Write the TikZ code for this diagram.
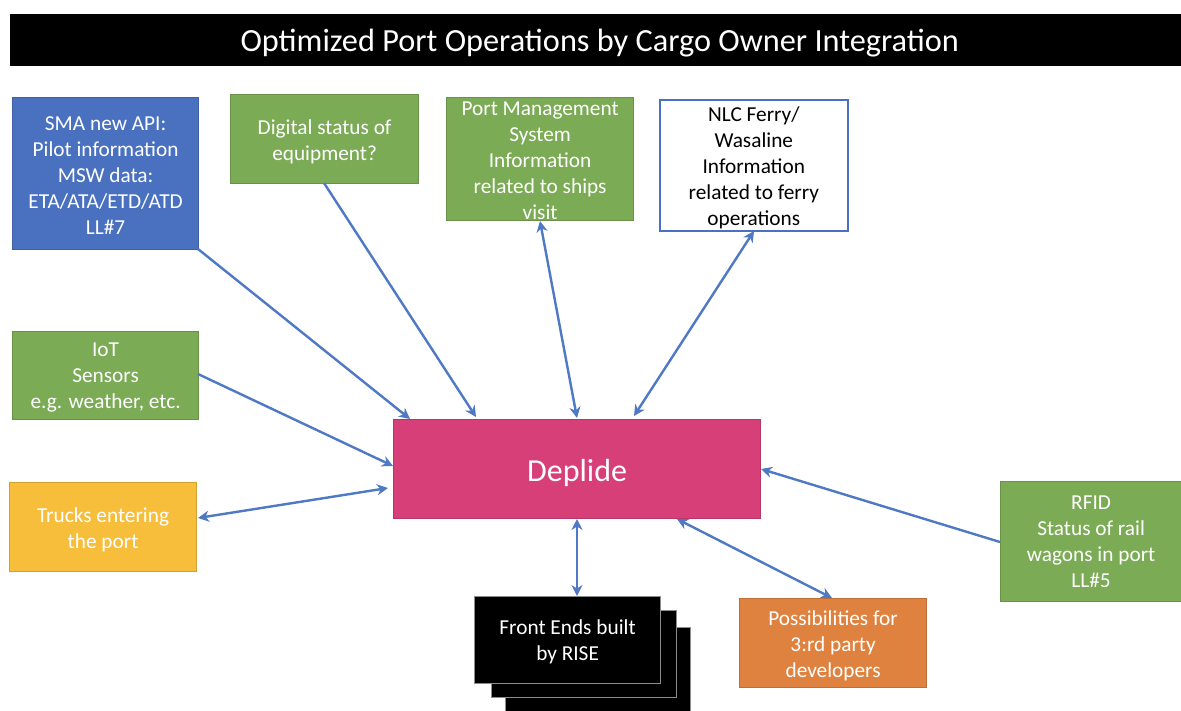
\documentclass[tikz,border=0pt]{standalone}
\usepackage{fontspec}
\setmainfont{Carlito}
\usetikzlibrary{arrows.meta}
\definecolor{cgreen}{HTML}{7BAB55}
\definecolor{cblue}{HTML}{4A71C0}
\definecolor{cpink}{HTML}{D63F78}
\definecolor{cyel}{HTML}{F6BE3A}
\definecolor{corg}{HTML}{DF823F}
\definecolor{cline}{HTML}{4F79C4}
\newcommand{\dn}[1]{\rule{0pt}{#1pt}}
\tikzset{x=1pt,y=-1pt,
 box/.style={draw=#1!85!black,fill=#1,line width=1.2pt,text=white,align=center,inner sep=0pt,anchor=north west,font=\fontsize{21.3}{26}\selectfont},
 conn/.style={cline,line width=2.4pt,-{Stealth[length=11pt,width=11pt]}},
 biconn/.style={cline,line width=2.4pt,{Stealth[length=11pt,width=11pt]}-{Stealth[length=11pt,width=11pt]}}}
\newcommand{\bx}[7][]{\node[box=#2,minimum width=#5pt,minimum height=#6pt,#1] (#3) at #4 {#7};}
\begin{document}
\begin{tikzpicture}
\useasboundingbox (0,0) rectangle (1181,711);
\fill[white] (0,0) rectangle (1181,711);
\node[fill=black,text=white,anchor=north west,minimum width=1171pt,minimum height=52pt,inner sep=0pt,text depth=0pt,font=\fontsize{32.3}{36}\selectfont] (title) at (10,14) {\kern8pt Optimized Port Operations by Cargo Owner Integration};
\bx{cblue}{sma}{(12,97)}{186}{152}{\dn{17}SMA new API:\\Pilot information\\MSW data:\\ETA/ATA/ETD/ATD\\LL\#7}
\bx{cgreen}{dig}{(230,94)}{188}{89}{\dn{20}Digital status of\\equipment?}
\bx{cgreen}{pms}{(446,97)}{187}{123}{\dn{17}Port Management\\System\\Information\\related to ships\\visit}
\node[box=white,draw=cblue,text=black,line width=1.6pt,minimum width=188pt,minimum height=131pt] (nlc) at (659,99) {\dn{19}NLC Ferry/\\Wasaline\\Information\\related to ferry\\operations};
\bx{cgreen}{iot}{(12,331)}{186}{88}{\dn{17}IoT\\Sensors\\e.g. weather, etc.}
\bx{cyel}{trk}{(9,482)}{187}{89}{\dn{20}Trucks entering\\the port}
\bx{cpink}{dep}{(393,419)}{367}{99}{\fontsize{32}{36}\selectfont\dn{30}Deplide}
\bx{cgreen}{rfid}{(1000,481)}{181}{120}{RFID\\Status of rail\\wagons in port\\LL\#5}
\bx{corg}{dev}{(739,598)}{187}{89}{\dn{20}Possibilities for\\3:rd party\\developers}
\node[fill=black,draw=black!45,line width=1.2pt,anchor=north west,minimum width=185pt,minimum height=100pt,inner sep=0pt] (fe3) at (505,627) {};
\node[fill=black,draw=black!45,line width=1.2pt,anchor=north west,minimum width=185pt,minimum height=87pt,inner sep=0pt] (fe2) at (491,610) {};
\node[fill=black,draw=black!45,line width=1.2pt,anchor=north west,minimum width=186pt,minimum height=87pt,inner sep=0pt,text=white,align=center,font=\fontsize{21.3}{26}\selectfont] (fe) at (474,596) {\dn{19}Front Ends built\\by RISE};
\coordinate (d1) at (410,419);\coordinate (d2) at (476,417);\coordinate (d3) at (577,418);\coordinate (d4) at (634,416);
\coordinate (d5) at (393,466);\coordinate (d6) at (388,488);\coordinate (d7) at (761,469);\coordinate (d8) at (677,519);\coordinate (d9) at (577,519);
\coordinate (s1) at (198,249);\coordinate (s2) at (324,183);\coordinate (s3) at (540,221);\coordinate (s4) at (754,231);\coordinate (s5) at (198,374);\coordinate (s6) at (198,518);\coordinate (s7) at (1000,542);\coordinate (s8) at (832,598);\coordinate (s9) at (577,596);
\draw[conn] (s1) -- (d1);
\draw[conn] (s2) -- (d2);
\draw[biconn] (s3) -- (d3);
\draw[biconn] (s4) -- (d4);
\draw[conn] (s5) -- (d5);
\draw[biconn] (s6) -- (d6);
\draw[conn] (s7) -- (d7);
\draw[biconn] (s8) -- (d8);
\draw[biconn] (s9) -- (d9);
\end{tikzpicture}
\end{document}
